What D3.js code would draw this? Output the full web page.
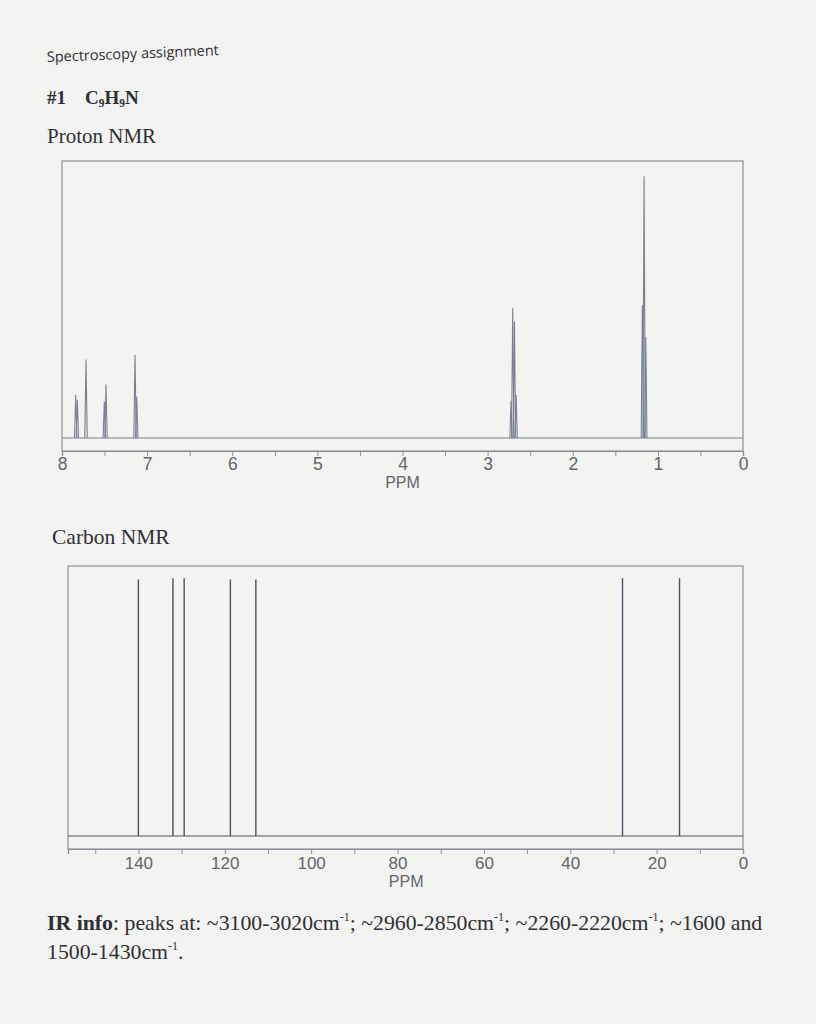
<!DOCTYPE html>
<html>
<head>
<meta charset="utf-8">
<script src="https://cdn.jsdelivr.net/npm/d3@7"></script>
<style>
  body { margin: 0; background: #f3f3f1; }
  svg { display: block; }
</style>
</head>
<body>
<svg width="816" height="1024"></svg>
<script>
// proton NMR peaks (ppm, relative height)
const protonPpm = [7.839, 7.820, 7.718, 7.503, 7.483, 7.142, 7.122, 2.725, 2.705, 2.685, 2.665, 1.182, 1.162, 1.142];
const protonHeight = [0.156, 0.138, 0.283, 0.132, 0.193, 0.300, 0.150, 0.134, 0.470, 0.421, 0.155, 0.480, 0.945, 0.365];
const protonMajorTicks = [8, 7, 6, 5, 4, 3, 2, 1, 0];
const protonMinorTicks = [7.5, 6.5, 5.5, 4.5, 3.5, 2.5, 1.5, 0.5];

// carbon NMR peaks
const carbonPpm = [140.0, 132.0, 129.4, 118.7, 112.8, 27.9, 14.7];
const carbonHeight = [0.95, 0.955, 0.955, 0.95, 0.95, 0.955, 0.955];
const carbonMajorTicks = [140, 120, 100, 80, 60, 40, 20, 0];
const carbonMinorTicks = [150, 130, 110, 90, 70, 50, 30, 10];

const irParts = [
  { t: "IR info", bold: true },
  { t: ": peaks at: ~3100-3020cm" }, { t: "-1", sup: true },
  { t: "; ~2960-2850cm" }, { t: "-1", sup: true },
  { t: "; ~2260-2220cm" }, { t: "-1", sup: true },
  { t: "; ~1600 and" }
];

const svg = d3.select("svg");
const ink = "#2f3035";
const frame = "#8c9099";
const labelInk = "#62656d";
const serif = "'Liberation Serif', 'DejaVu Serif', serif";
const sans = "'Liberation Sans', Arial, sans-serif";

// headings
svg.append("text")
  .attr("transform", "translate(47,62) rotate(-2.3)")
  .attr("font-family", "'Open Sans', sans-serif")
  .attr("font-size", 14.5)
  .attr("fill", ink)
  .text("Spectroscopy assignment");

const h1 = svg.append("text")
  .attr("x", 47).attr("y", 104)
  .attr("font-family", serif)
  .attr("font-size", 19)
  .attr("font-weight", "bold")
  .attr("fill", ink);
h1.append("tspan").text("#1\u2003C");
h1.append("tspan").attr("font-size", 11.5).attr("dy", 3).text("9");
h1.append("tspan").attr("dy", -3).text("H");
h1.append("tspan").attr("font-size", 11.5).attr("dy", 3).text("9");
h1.append("tspan").attr("dy", -3).text("N");

svg.append("text")
  .attr("x", 47).attr("y", 143)
  .attr("font-family", serif)
  .attr("font-size", 21)
  .attr("fill", ink)
  .text("Proton NMR");

svg.append("text")
  .attr("x", 52).attr("y", 544)
  .attr("font-family", serif)
  .attr("font-size", 21.5)
  .attr("fill", ink)
  .text("Carbon NMR");

function spectrum(cfg) {
  const g = svg.append("g");
  const x = d3.scaleLinear().domain(cfg.domain).range([cfg.left, cfg.right]);
  const y = d3.scaleLinear().domain([0, 1]).range([cfg.base, cfg.top]);

  // frame
  g.append("rect")
    .attr("x", cfg.left).attr("y", cfg.top)
    .attr("width", cfg.right - cfg.left)
    .attr("height", cfg.axisY - cfg.top)
    .attr("fill", "none")
    .attr("stroke", frame)
    .attr("stroke-width", 1.2);

  // baseline
  g.append("line")
    .attr("x1", cfg.left).attr("x2", cfg.right)
    .attr("y1", y(0)).attr("y2", y(0))
    .attr("stroke", cfg.lineColor)
    .attr("stroke-width", 1.2);

  // peaks
  const line = d3.line().x(d => x(d[0])).y(d => y(d[1]));
  const peaks = cfg.ppm.map((p, i) => [[p + cfg.w, 0], [p, cfg.height[i]], [p - cfg.w, 0]]);
  g.selectAll(".peak")
    .data(peaks)
    .join("path")
    .attr("class", "peak")
    .attr("d", line)
    .attr("fill", "none")
    .attr("stroke", cfg.lineColor)
    .attr("stroke-width", cfg.peakWidth);

  // axis: minor then major ticks
  const minor = g.append("g")
    .attr("transform", `translate(0,${cfg.axisY})`)
    .call(d3.axisBottom(x).tickValues(cfg.minor).tickSize(5).tickFormat(""));
  const major = g.append("g")
    .attr("transform", `translate(0,${cfg.axisY})`)
    .call(d3.axisBottom(x).tickValues(cfg.major).tickSize(5).tickPadding(cfg.pad));
  [minor, major].forEach(a => {
    a.select(".domain").attr("stroke", frame).attr("stroke-width", 1.2);
    a.selectAll(".tick line").attr("stroke", frame);
  });
  major.selectAll(".tick text")
    .attr("font-family", sans)
    .attr("font-size", cfg.labelSize)
    .attr("fill", labelInk);

  g.append("text")
    .attr("x", x(cfg.ppmLabelAt)).attr("y", cfg.axisY + cfg.ppmDy)
    .attr("text-anchor", "middle")
    .attr("font-family", sans)
    .attr("font-size", cfg.ppmSize)
    .attr("fill", labelInk)
    .text("PPM");
}

spectrum({
  domain: [8, 0], left: 62, right: 743,
  top: 161, base: 438, axisY: 451,
  ppm: protonPpm, height: protonHeight, w: 0.014,
  lineColor: "#7a8090", peakWidth: 1.1,
  major: protonMajorTicks, minor: protonMinorTicks,
  labelSize: 17.5, pad: 2, ppmSize: 16, ppmDy: 37, ppmLabelAt: 4
});

spectrum({
  domain: [156.3, 0], left: 68, right: 743,
  top: 566, base: 836, axisY: 849,
  ppm: carbonPpm, height: carbonHeight, w: 0,
  lineColor: "#4d5262", peakWidth: 1.4,
  major: carbonMajorTicks, minor: carbonMinorTicks,
  labelSize: 17, pad: 3, ppmSize: 16, ppmDy: 38, ppmLabelAt: 78
});

// IR info
const ir1 = svg.append("text")
  .attr("x", 47).attr("y", 930)
  .attr("font-family", serif)
  .attr("font-size", 21.8)
  .attr("fill", ink);
irParts.forEach((p, i) => {
  const s = ir1.append("tspan").text(p.t);
  if (p.bold) s.attr("font-weight", "bold");
  if (p.sup) s.attr("font-size", 12).attr("dy", -9);
  else if (i > 0 && irParts[i - 1].sup) s.attr("dy", 9);
});

const ir2 = svg.append("text")
  .attr("x", 47).attr("y", 959)
  .attr("font-family", serif)
  .attr("font-size", 21.8)
  .attr("fill", ink);
ir2.append("tspan").text("1500-1430cm");
ir2.append("tspan").attr("font-size", 12).attr("dy", -9).text("-1");
ir2.append("tspan").attr("dy", 9).text(".");
</script>
</body>
</html>
